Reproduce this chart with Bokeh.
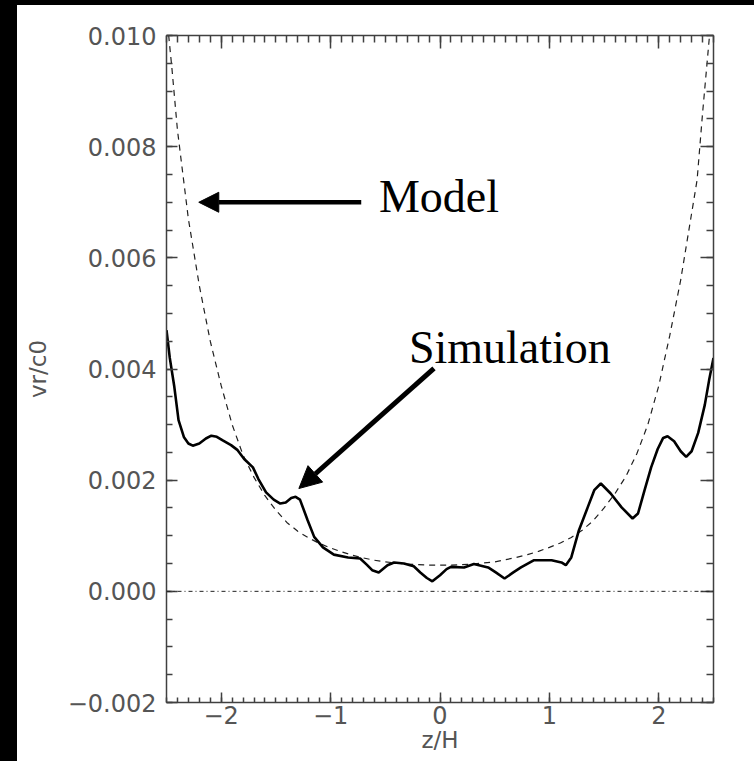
from bokeh.plotting import figure
from bokeh.models import (LinearAxis, FixedTicker, CustomJSTickFormatter, Span,
                          Arrow, NormalHead, Label, Spacer)
from bokeh.layouts import row, column
from bokeh.embed import file_html
from bokeh.resources import INLINE

# Model profile (dashed)
model_z = [-2.5, -2.45, -2.4, -2.35, -2.3, -2.2, -2.1, -2.0, -1.9, -1.8, -1.7,
           -1.6, -1.5, -1.4, -1.3, -1.2, -1.1, -1.0, -0.9, -0.8, -0.7, -0.6,
           -0.5, -0.4, -0.3, -0.2, -0.1, 0.0, 0.1, 0.2, 0.3, 0.4, 0.5, 0.6,
           0.7, 0.8, 0.9, 1.0, 1.1, 1.2, 1.3, 1.4, 1.5, 1.6, 1.7, 1.8, 1.9,
           2.0, 2.1, 2.2, 2.3, 2.35, 2.4, 2.45, 2.5]
model_v = [0.0104, 0.0094, 0.0083, 0.0075, 0.0067, 0.0055, 0.0045, 0.0037,
           0.0030, 0.00245, 0.00205, 0.00172, 0.00146, 0.00124, 0.00108,
           0.00096, 0.00086, 0.00078, 0.00071, 0.00065, 0.00060, 0.00056,
           0.00053, 0.00051, 0.00049, 0.00048, 0.00047, 0.00047, 0.00047,
           0.00048, 0.00049, 0.00051, 0.00053, 0.00057, 0.00061, 0.00066,
           0.00072, 0.00079, 0.00087, 0.00097, 0.00110, 0.00127, 0.00150,
           0.00176, 0.00207, 0.00248, 0.0030, 0.0037, 0.0046, 0.0056, 0.0068,
           0.0074, 0.0086, 0.0097, 0.0108]

# Simulation profile (solid)
sim_z = [-2.50, -2.47, -2.43, -2.39, -2.34, -2.30, -2.26, -2.20, -2.14, -2.09,
         -2.04, -1.99, -1.91, -1.85, -1.79, -1.71, -1.66, -1.59, -1.52, -1.46,
         -1.41, -1.36, -1.32, -1.28, -1.21, -1.15, -1.07, -0.97, -0.84, -0.73,
         -0.67, -0.62, -0.56, -0.48, -0.42, -0.33, -0.24, -0.18, -0.12, -0.07,
         0.00, 0.06, 0.10, 0.22, 0.31, 0.44, 0.51, 0.59, 0.67, 0.74, 0.86,
         1.02, 1.11, 1.15, 1.20, 1.27, 1.35, 1.41, 1.47, 1.56, 1.66, 1.76,
         1.81, 1.87, 1.93, 1.99, 2.04, 2.08, 2.14, 2.20, 2.25, 2.30, 2.36,
         2.42, 2.46, 2.50]
sim_v = [0.00470, 0.00420, 0.00370, 0.00308, 0.00277, 0.00266, 0.00262,
         0.00266, 0.00275, 0.00280, 0.00278, 0.00272, 0.00263, 0.00254,
         0.00238, 0.00223, 0.00202, 0.00178, 0.00165, 0.00158, 0.00160,
         0.00168, 0.00170, 0.00165, 0.00128, 0.00098, 0.00079, 0.00066,
         0.00061, 0.00059, 0.00048, 0.00038, 0.00034, 0.00047, 0.00052,
         0.00050, 0.00045, 0.00034, 0.00024, 0.00018, 0.00029, 0.00040,
         0.00044, 0.00043, 0.00049, 0.00043, 0.00034, 0.00023, 0.00034,
         0.00043, 0.00056, 0.00056, 0.00052, 0.00047, 0.00061, 0.00110,
         0.00151, 0.00182, 0.00194, 0.00176, 0.00151, 0.00131, 0.00140,
         0.00182, 0.00223, 0.00256, 0.00276, 0.00279, 0.00270, 0.00252,
         0.00242, 0.00252, 0.00285, 0.00335, 0.00380, 0.00420]

# Axis ticks
x_major = [-2, -1, 0, 1, 2]
x_minor = [round(-2.5 + 0.1 * i, 1) for i in range(51)]
y_major = [-0.002, 0.0, 0.002, 0.004, 0.006, 0.008, 0.010]
y_minor = [round(-0.002 + 0.0005 * i, 4) for i in range(25)]

AXIS_COLOR = "#404040"
TEXT_COLOR = "#555555"
TICK_FONT = "DejaVu Sans"

p = figure(width=737, height=756, x_range=(-2.5, 2.5), y_range=(-0.002, 0.010),
           output_backend="svg", toolbar_location=None,
           x_axis_location=None, y_axis_location=None,
           min_border_left=149, min_border_right=41,
           min_border_top=30, min_border_bottom=59,
           background_fill_color="white", border_fill_color="white",
           outline_line_color=None)
p.grid.visible = False

x_fmt = CustomJSTickFormatter(code="""
    const s = Math.abs(tick).toFixed(0);
    return tick < 0 ? "\u2212" + s : s;
""")
y_fmt = CustomJSTickFormatter(code="""
    const s = Math.abs(tick).toFixed(3);
    return tick < -1e-9 ? "\u2212" + s : s;
""")
blank_fmt = CustomJSTickFormatter(code="return '';")


def style_axis(ax, major_in, minor_in):
    ax.axis_line_color = AXIS_COLOR
    ax.axis_line_width = 1.5
    ax.major_tick_line_color = AXIS_COLOR
    ax.minor_tick_line_color = AXIS_COLOR
    ax.major_tick_line_width = 1.5
    ax.minor_tick_line_width = 1.5
    ax.major_tick_in = major_in
    ax.major_tick_out = 0
    ax.minor_tick_in = minor_in
    ax.minor_tick_out = 0
    ax.major_label_text_color = TEXT_COLOR
    ax.major_label_text_font = TICK_FONT
    ax.axis_label_text_color = TEXT_COLOR
    ax.axis_label_text_font = TICK_FONT
    ax.axis_label_text_font_style = "normal"


bottom = LinearAxis(ticker=FixedTicker(ticks=x_major, minor_ticks=x_minor),
                    formatter=x_fmt, axis_label="z/H")
style_axis(bottom, 10, 5)
bottom.major_label_text_font_size = "24px"
bottom.major_label_standoff = 3
bottom.axis_label_text_font_size = "23px"
bottom.axis_label_standoff = 0
p.add_layout(bottom, "below")

left = LinearAxis(ticker=FixedTicker(ticks=y_major, minor_ticks=y_minor),
                  formatter=y_fmt, axis_label="vr/c0")
style_axis(left, 11, 6)
left.major_label_text_font_size = "24px"
left.major_label_standoff = 10
left.axis_label_text_font_size = "23px"
left.axis_label_standoff = 14
p.add_layout(left, "left")

top = LinearAxis(ticker=FixedTicker(ticks=x_major, minor_ticks=x_minor),
                 formatter=blank_fmt)
style_axis(top, 13, 7)
top.major_label_text_font_size = "0px"
top.major_label_standoff = 0
p.add_layout(top, "above")

right = LinearAxis(ticker=FixedTicker(ticks=y_major, minor_ticks=y_minor),
                   formatter=blank_fmt)
style_axis(right, 13, 7)
right.major_label_text_font_size = "0px"
right.major_label_standoff = 0
p.add_layout(right, "right")

# zero reference
p.add_layout(Span(location=0.0, dimension="width", line_color="#202020",
                  line_width=1, line_dash="4 3 1 3"))

p.line(model_z, model_v, line_color="#202020", line_width=1.2, line_dash="6 5")
p.line(sim_z, sim_v, line_color="black", line_width=2.6)

# annotations
p.add_layout(Arrow(end=NormalHead(size=20, fill_color="black", line_color="black"),
                   x_start=-0.72, y_start=0.0070, x_end=-2.205, y_end=0.0070,
                   line_width=4.5, line_color="black"))
p.add_layout(Label(x=-0.558, y=0.00711, text="Model",
                   text_font="Liberation Serif", text_font_size="46px",
                   text_color="black", text_baseline="alphabetic"))

p.add_layout(Arrow(end=NormalHead(size=22, fill_color="black", line_color="black"),
                   x_start=-0.055, y_start=0.00401, x_end=-1.29, y_end=0.00185,
                   line_width=5, line_color="black"))
p.add_layout(Label(x=-0.284, y=0.00439, text="Simulation",
                   text_font="Liberation Serif", text_font_size="46px",
                   text_color="black", text_baseline="alphabetic"))

left_strip = Spacer(width=17, height=761, styles={"background-color": "black"})
top_strip = Spacer(width=737, height=5, styles={"background-color": "black"})
layout = row(left_strip, column(top_strip, p, spacing=0), spacing=0)

open("out.html", "w").write(file_html(layout, INLINE))
